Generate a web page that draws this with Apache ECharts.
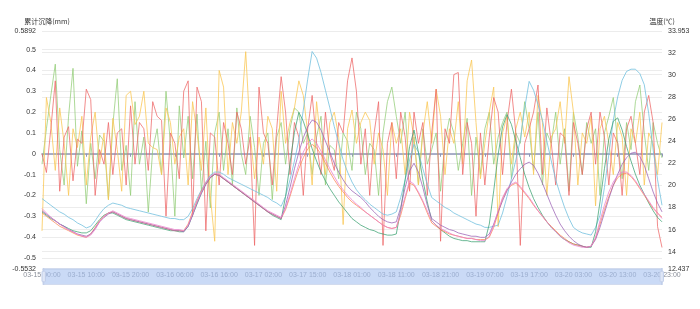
<!DOCTYPE html>
<html><head><meta charset="utf-8">
<script src="https://cdn.jsdelivr.net/npm/echarts@6/dist/echarts.min.js"></script>
<style>html,body{margin:0;padding:0;background:#fff}#c{width:700px;height:309px}</style>
</head><body><div id="c"></div>
<script>
var categories = [
"03-15 00:00","03-15 01:00","03-15 02:00","03-15 03:00","03-15 04:00","03-15 05:00","03-15 06:00","03-15 07:00","03-15 08:00","03-15 09:00",
"03-15 10:00","03-15 11:00","03-15 12:00","03-15 13:00","03-15 14:00","03-15 15:00","03-15 16:00","03-15 17:00","03-15 18:00","03-15 19:00",
"03-15 20:00","03-15 21:00","03-15 22:00","03-15 23:00","03-16 00:00","03-16 01:00","03-16 02:00","03-16 03:00","03-16 04:00","03-16 05:00",
"03-16 06:00","03-16 07:00","03-16 08:00","03-16 09:00","03-16 10:00","03-16 11:00","03-16 12:00","03-16 13:00","03-16 14:00","03-16 15:00",
"03-16 16:00","03-16 17:00","03-16 18:00","03-16 19:00","03-16 20:00","03-16 21:00","03-16 22:00","03-16 23:00","03-17 00:00","03-17 01:00",
"03-17 02:00","03-17 03:00","03-17 04:00","03-17 05:00","03-17 06:00","03-17 07:00","03-17 11:00","03-17 12:00","03-17 13:00","03-17 14:00",
"03-17 15:00","03-17 16:00","03-17 17:00","03-17 18:00","03-17 19:00","03-17 20:00","03-17 21:00","03-17 22:00","03-17 23:00","03-18 00:00",
"03-18 01:00","03-18 02:00","03-18 03:00","03-18 04:00","03-18 05:00","03-18 06:00","03-18 07:00","03-18 08:00","03-18 09:00","03-18 10:00",
"03-18 11:00","03-18 12:00","03-18 13:00","03-18 14:00","03-18 15:00","03-18 16:00","03-18 17:00","03-18 18:00","03-18 19:00","03-18 20:00",
"03-18 21:00","03-18 22:00","03-18 23:00","03-19 00:00","03-19 01:00","03-19 02:00","03-19 03:00","03-19 04:00","03-19 05:00","03-19 06:00",
"03-19 07:00","03-19 08:00","03-19 09:00","03-19 10:00","03-19 11:00","03-19 12:00","03-19 13:00","03-19 14:00","03-19 15:00","03-19 16:00",
"03-19 17:00","03-19 18:00","03-19 19:00","03-19 20:00","03-19 21:00","03-19 22:00","03-19 23:00","03-20 00:00","03-20 01:00","03-20 02:00",
"03-20 03:00","03-20 04:00","03-20 05:00","03-20 06:00","03-20 07:00","03-20 08:00","03-20 09:00","03-20 10:00","03-20 11:00","03-20 12:00",
"03-20 13:00","03-20 14:00","03-20 15:00","03-20 16:00","03-20 17:00","03-20 18:00","03-20 19:00","03-20 20:00","03-20 21:00","03-20 22:00",
"03-20 23:00"];

// settlement (mm), left axis
var settleGreen = [
-0.05,0.12,0.28,0.43,0.02,-0.15,0.18,0.41,-0.06,0.11,
-0.24,0.05,-0.12,0.09,0.06,-0.22,0.14,0.36,-0.08,0.04,
-0.2,0.25,-0.05,0.08,-0.28,0.02,0.12,-0.1,0.3,0.05,
-0.3,0.23,-0.02,0.18,-0.12,0.19,-0.18,0.06,-0.26,0.1,
0.2,-0.08,0.12,-0.15,0.22,0.0,-0.1,0.18,0.03,-0.2,
0.05,0.1,-0.22,0.08,0.15,-0.05,0.12,0.22,0.2,0.05,
0.1,-0.1,0.08,0.18,-0.15,0.04,0.02,-0.12,0.1,0.06,
-0.08,0.2,0.12,-0.1,0.05,0.02,-0.2,0.1,0.25,0.32,
0.18,0.05,0.2,-0.1,0.08,-0.15,0.12,-0.05,0.02,0.1,
-0.18,0.06,0.17,0.1,-0.08,0.05,0.17,-0.2,0.08,-0.1,
0.12,0.2,-0.05,0.08,0.15,0.2,-0.12,0.1,0.05,0.25,
0.12,-0.08,0.2,-0.15,0.1,0.05,0.2,-0.05,0.12,-0.18,
0.2,0.08,-0.1,0.15,0.05,0.12,-0.2,0.1,0.18,0.27,
0.05,-0.12,0.15,0.02,0.25,0.33,0.1,-0.08,0.15,0.05,
-0.02];
var settleYellow = [
-0.37,0.27,0.15,-0.08,0.22,0.05,-0.2,0.12,0.03,0.18,
-0.15,0.08,0.2,-0.05,0.1,-0.22,0.17,0.02,-0.18,0.28,
0.3,0.14,0.18,0.3,0.05,0.03,0.02,-0.1,0.22,0.15,
-0.05,0.08,0.12,-0.15,0.25,0.1,-0.08,0.22,-0.2,-0.42,
0.4,0.32,-0.1,0.15,0.05,0.2,0.49,0.1,-0.12,0.08,
-0.05,0.18,0.12,-0.18,0.3,0.05,0.15,0.22,0.35,0.28,
0.1,-0.15,0.25,0.05,-0.1,0.15,0.2,0.08,-0.34,0.12,
0.21,0.05,0.15,0.2,0.16,-0.05,0.1,0.02,-0.2,0.15,
0.05,0.12,-0.1,0.2,0.08,-0.15,0.1,0.25,0.05,0.31,
0.18,-0.1,0.12,0.05,0.25,-0.05,0.35,0.45,0.15,-0.12,
0.05,0.2,0.32,-0.35,0.1,0.18,-0.05,0.12,0.2,0.08,
0.2,-0.1,0.28,0.15,-0.2,0.08,0.12,0.25,0.05,0.37,
0.2,-0.15,0.1,0.05,0.18,-0.25,0.12,0.18,0.05,-0.1,
0.15,0.08,-0.2,0.12,0.05,0.2,-0.15,0.1,0.05,-0.1,
0.15];
var settleRed = [
0.0,-0.09,0.12,0.35,-0.18,0.08,0.13,-0.13,0.07,0.05,
0.31,0.26,-0.2,0.02,-0.05,0.15,-0.1,0.1,0.12,-0.15,
0.23,-0.05,0.15,0.12,-0.08,0.25,0.18,0.16,-0.3,0.1,
0.05,-0.12,0.3,0.35,-0.3,0.32,0.25,-0.37,0.1,0.08,
-0.15,0.15,0.05,-0.1,0.2,0.12,-0.05,0.08,-0.44,0.32,
0.1,0.05,-0.15,0.12,0.37,0.2,-0.1,0.15,0.08,-0.2,
0.12,0.28,0.05,-0.1,0.2,0.0,-0.08,0.15,0.1,0.35,
0.46,0.3,-0.05,0.12,-0.2,0.1,0.25,-0.44,0.05,0.15,
-0.12,0.2,0.08,-0.18,0.2,0.05,0.15,-0.2,0.1,0.31,
-0.42,0.12,0.05,0.38,0.39,-0.1,0.15,0.05,-0.3,0.1,
-0.15,0.08,0.27,0.2,-0.1,0.15,0.31,0.1,-0.44,0.05,
0.12,0.2,0.33,-0.1,0.22,0.05,-0.15,0.1,0.08,-0.2,
0.15,0.05,-0.1,0.12,0.2,-0.05,0.2,0.08,-0.15,0.1,
0.05,-0.2,0.12,0.18,0.05,-0.1,0.2,0.28,0.15,-0.35,
-0.45];

// temperature (°C), right axis
var tempBlue = [
18.8,18.5,18.2,17.9,17.6,17.4,17.1,16.9,16.6,16.4,16.15,
16.3,16.8,17.4,17.9,18.2,18.4,
18.3,18.2,18.0,17.9,17.8,17.7,17.6,17.5,17.4,17.3,17.2,17.1,17.0,17.0,16.9,16.9,
17.2,17.9,18.8,19.6,20.3,20.9,21.2,
21.2,21.0,20.7,20.5,20.3,20.1,19.9,19.7,19.5,19.3,19.1,18.9,18.6,18.4,18.1,
19.0,20.5,22.2,24.1,26.8,29.6,32.1,
31.5,30.2,28.6,27.0,25.3,23.8,22.3,21.2,20.3,19.6,19.1,
18.7,18.3,18.0,17.7,17.4,17.3,17.4,17.6,
18.9,20.5,22.3,23.7,23.0,21.5,20.1,18.9,
18.6,18.3,18.0,17.8,17.5,17.3,17.1,16.9,16.7,16.5,16.4,16.2,
16.2,16.3,16.4,17.5,19.0,20.6,22.3,24.1,27.0,29.4,
28.6,27.3,25.9,24.0,22.2,20.5,19.2,18.0,17.0,16.2,
15.9,15.7,15.6,15.5,16.2,17.3,
19.8,22.8,25.9,28.0,29.5,30.3,30.5,30.5,
30.1,29.1,26.5,23.2,20.5,18.2];
var tempTeal = [
17.6,17.3,17.0,16.8,16.5,16.3,16.1,15.9,15.8,15.7,15.7,
15.9,16.4,16.9,17.3,17.5,17.5,
17.3,17.1,16.9,16.8,16.7,16.6,16.5,16.4,16.3,16.2,16.1,16.0,15.9,15.9,15.8,15.8,
16.3,17.3,18.3,19.3,20.1,20.7,21.0,
20.9,20.6,20.3,20.0,19.7,19.4,19.1,18.8,18.5,18.2,17.9,17.6,17.3,17.1,16.9,
19.0,22.0,24.8,26.6,25.8,24.6,23.3,
22.2,21.2,20.4,19.7,19.1,18.5,18.0,17.5,17.0,16.7,16.4,
16.2,16.0,15.9,15.7,15.6,15.5,15.5,15.6,
17.8,20.5,23.5,25.0,23.0,20.5,18.5,16.8,
16.4,16.0,15.7,15.4,15.2,15.1,15.0,15.0,14.9,14.9,14.9,14.9,
16.5,19.5,22.8,25.3,26.4,25.5,24.0,22.5,21.0,19.8,
18.8,18.0,17.3,16.7,16.2,15.8,15.4,15.1,14.9,14.7,
14.6,14.5,14.4,14.4,15.8,18.5,
21.5,24.2,25.8,26.1,25.0,23.5,22.2,21.0,
20.0,19.2,18.4,17.7,17.1,16.7];
var tempOrange = [
17.5,17.2,16.9,16.6,16.3,16.1,15.9,15.7,15.5,15.4,15.3,
15.6,16.2,16.8,17.2,17.5,17.6,
17.4,17.2,17.0,16.9,16.8,16.7,16.6,16.5,16.4,16.3,16.2,16.1,16.0,15.9,15.9,15.9,
16.5,17.6,18.6,19.5,20.2,20.7,21.0,
20.9,20.6,20.3,20.0,19.7,19.4,19.1,18.8,18.5,18.2,17.9,17.6,17.4,17.2,17.0,
17.8,19.0,20.3,21.5,22.5,23.3,23.7,
23.4,22.8,22.0,21.2,20.5,19.9,19.4,18.9,18.5,18.2,17.9,
17.6,17.3,17.0,16.7,16.4,16.2,16.1,16.2,
17.3,18.8,20.2,20.0,19.3,18.5,17.5,16.6,
16.3,16.0,15.8,15.6,15.5,15.4,15.3,15.2,15.2,15.1,15.1,15.1,
15.3,16.2,17.5,18.8,19.6,20.0,20.2,19.8,19.3,18.8,
18.2,17.7,17.2,16.7,16.3,15.9,15.5,15.2,14.9,14.7,
14.6,14.5,14.4,14.5,15.2,16.5,
17.8,19.0,20.0,20.7,21.0,21.1,20.8,20.3,
19.7,19.1,18.5,17.9,17.5,17.1];
var tempPurple = [
17.7,17.4,17.1,16.8,16.5,16.3,16.0,15.8,15.6,15.5,15.4,
15.6,16.1,16.7,17.1,17.4,17.6,
17.4,17.2,17.0,16.9,16.8,16.7,16.6,16.5,16.4,16.3,16.2,16.1,16.0,15.9,15.9,15.8,
16.3,17.3,18.4,19.3,20.1,20.7,21.0,
20.9,20.6,20.3,20.0,19.7,19.4,19.1,18.8,18.5,18.2,17.9,17.6,17.4,17.2,17.0,
18.2,19.8,21.5,23.0,24.3,25.3,25.9,
25.7,25.0,24.0,23.0,22.0,21.2,20.5,19.9,19.5,19.2,18.9,
18.5,18.0,17.6,17.2,16.9,16.7,16.6,16.7,
18.0,19.8,21.3,22.0,21.2,19.8,18.2,17.0,
16.7,16.4,16.2,16.0,15.9,15.7,15.6,15.5,15.4,15.4,15.3,15.3,
15.6,16.5,17.6,18.6,19.5,20.3,21.0,21.5,21.9,22.1,
21.8,21.1,20.2,19.2,18.2,17.3,16.5,15.9,15.4,15.0,
14.7,14.5,14.4,14.5,15.1,16.2,
17.5,18.8,20.0,21.0,21.9,22.5,22.9,23.0,
22.6,21.8,20.6,19.4,18.4,17.6];
var tempPink = [
17.9,17.5,17.1,16.8,16.5,16.2,16.0,15.8,15.6,15.4,15.3,
15.5,16.0,16.7,17.2,17.5,17.7,
17.5,17.3,17.1,17.0,16.9,16.8,16.7,16.6,16.5,16.4,16.3,16.2,16.1,16.0,16.0,15.9,
16.4,17.4,18.5,19.4,20.2,20.8,21.1,
21.0,20.7,20.4,20.1,19.8,19.5,19.2,18.9,18.6,18.3,18.0,17.7,17.5,17.3,17.1,
17.9,19.2,20.6,21.9,23.0,23.8,24.2,
23.8,23.1,22.3,21.5,20.8,20.1,19.6,19.1,18.7,18.3,18.0,
17.6,17.3,17.0,16.7,16.4,16.2,16.1,16.2,
17.6,19.0,20.4,20.1,19.4,18.6,17.7,16.8,
16.4,16.1,15.9,15.7,15.5,15.4,15.3,15.2,15.2,15.1,15.0,15.0,
15.4,16.4,17.7,18.9,19.7,20.1,20.3,19.9,19.4,18.9,
18.3,17.7,17.2,16.7,16.2,15.8,15.4,15.1,14.8,14.6,
14.5,14.4,14.4,14.5,15.3,16.8,
18.2,19.4,20.3,20.9,21.2,21.2,20.9,20.4,
19.8,19.2,18.6,18.0,17.5,17.0];

var leftMin = -0.5532, leftMax = 0.5892;
var rightMin = 12.437, rightMax = 33.953;

var chart = echarts.init(document.getElementById('c'));
var font = 'sans-serif';
function line(name, data, color, yIdx, op) {
  return {name: name, type: 'line', data: data, yAxisIndex: yIdx, xAxisIndex: 0,
    symbol: 'none', showSymbol: false, smooth: false,
    lineStyle: {width: 1, color: color, opacity: op}, itemStyle: {color: color}};
}
chart.setOption({
  animation: false,
  textStyle: {fontFamily: font},
  grid: {left: 42, right: 38, top: 31, bottom: 40},
  xAxis: [{
    type: 'category', data: categories, boundaryGap: false,
    axisLine: {onZero: true, lineStyle: {color: '#8f96b8', width: 1.5}},
    axisTick: {show: true, interval: 9, length: 3, lineStyle: {color: '#8f96b8'}},
    axisLabel: {show: false}, splitLine: {show: false}
  }, {
    type: 'category', data: categories, boundaryGap: false, position: 'bottom',
    axisLine: {show: false, onZero: false}, axisTick: {show: false},
    axisLabel: {interval: 9, fontSize: 7, color: '#8a8f99', margin: 3}
  }],
  yAxis: [{
    type: 'value', name: '累计沉降(mm)', min: leftMin, max: leftMax, splitNumber: 10,
    nameTextStyle: {fontSize: 7, color: '#333', fontFamily: 'Noto Sans CJK SC', padding: [0, 0, 0, 10]},
    nameGap: 6,
    axisLine: {show: false}, axisTick: {show: false},
    axisLabel: {fontSize: 7, color: '#333', margin: 6},
    splitLine: {lineStyle: {color: '#ececec'}}
  }, {
    type: 'value', name: '温度(℃)', min: rightMin, max: rightMax, splitNumber: 10,
    nameTextStyle: {fontSize: 7, color: '#333', fontFamily: 'Noto Sans CJK SC'},
    nameGap: 6,
    axisLine: {show: false}, axisTick: {show: false},
    axisLabel: {fontSize: 7, color: '#333', margin: 6},
    splitLine: {lineStyle: {color: '#ececec'}}
  }],
  dataZoom: [{
    type: 'slider', xAxisIndex: [0, 1], start: 0, end: 100,
    left: 42, right: 38, bottom: 24, height: 17,
    showDataShadow: false, showDetail: false, brushSelect: false,
    borderColor: '#d2dbee', backgroundColor: 'rgba(200,215,245,0.35)',
    fillerColor: 'rgba(150,182,238,0.4)',
    handleSize: '100%', handleStyle: {color: '#dfe7f7', borderColor: '#c0cde8'},
    moveHandleSize: 0
  }],
  series: [
    line('测点1', settleGreen, '#91cc75', 0, 0.75),
    line('测点2', settleYellow, '#fac858', 0, 0.8),
    line('测点3', settleRed, '#ee6666', 0, 0.75),
    line('温度1', tempBlue, '#73c0de', 1, 0.8),
    line('温度2', tempTeal, '#3ba272', 1, 0.75),
    line('温度3', tempOrange, '#fc8452', 1, 0.75),
    line('温度4', tempPurple, '#9a60b4', 1, 0.75),
    line('温度5', tempPink, '#ea7ccc', 1, 0.75)
  ]
});
</script></body></html>
